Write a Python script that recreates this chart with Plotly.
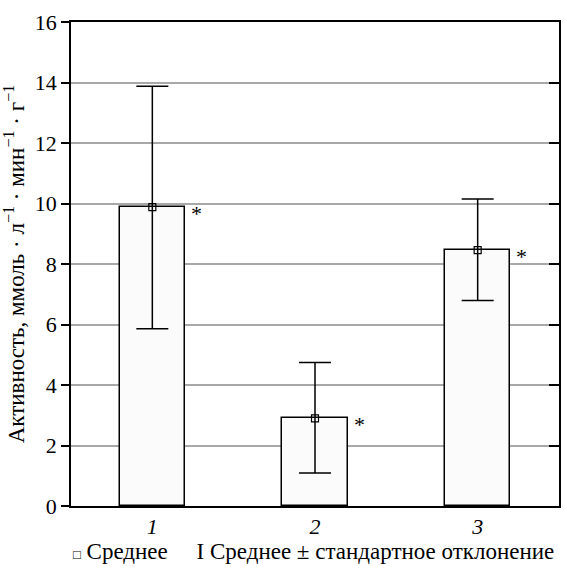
import plotly.graph_objects as go

categories = ["1", "2", "3"]
tick_text = ["<i>1</i>", "<i>2</i>", "<i>3</i>"]
means = [9.88, 2.90, 8.46]
upper = [13.88, 4.74, 10.15]
lower = [5.86, 1.09, 6.79]
y_ticks = [0, 2, 4, 6, 8, 10, 12, 14, 16]

err_plus = [u - m for u, m in zip(upper, means)]
err_minus = [m - l for m, l in zip(means, lower)]

FONT = "Times New Roman"

fig = go.Figure()
fig.add_trace(go.Bar(
    x=categories, y=means, width=0.4,
    marker=dict(color="#fbfbfb", line=dict(color="black", width=1.5)),
    showlegend=False, hoverinfo="skip",
))
fig.add_trace(go.Scatter(
    x=categories, y=means, mode="markers",
    marker=dict(symbol="square-open", size=7, color="black", line=dict(width=1.2)),
    error_y=dict(type="data", symmetric=False, array=err_plus, arrayminus=err_minus,
                 color="black", thickness=1.5, width=16),
    showlegend=False,
))
fig.add_trace(go.Scatter(x=categories, y=means, yaxis="y2", mode="none",
                         showlegend=False, hoverinfo="skip"))

for i, m in enumerate(means):
    fig.add_annotation(x=i, y=m, text="*", showarrow=False, xshift=44, yshift=-6,
                       font=dict(family=FONT, size=22))

fig.add_annotation(
    xref="paper", yref="paper", x=0.497, y=-0.093, xanchor="center", yanchor="middle",
    text="<span style='font-size:13px'>□</span> Среднее     I Среднее ± стандартное отклонение",
    showarrow=False, font=dict(family=FONT, size=23),
)

fig.update_layout(
    template="none",
    width=564, height=567,
    margin=dict(l=71, r=5, t=22, b=61),
    paper_bgcolor="white", plot_bgcolor="white",
    font=dict(family=FONT, size=22, color="black"),
    bargap=0,
    xaxis=dict(
        type="category", range=[-0.5, 2.5],
        tickvals=categories, ticktext=tick_text,
        showline=True, linecolor="black", linewidth=1.5, mirror=True,
        ticks="", showgrid=False,
        tickfont=dict(family=FONT, size=22),
    ),
    yaxis=dict(
        range=[0, 16], tickvals=y_ticks,
        showline=True, linecolor="black", linewidth=1.5, mirror=True,
        ticks="outside", ticklen=8, tickcolor="black", tickwidth=1.5,
        showgrid=True, gridcolor="#a8a8a8", gridwidth=1.5, zeroline=False,
        tickfont=dict(family=FONT, size=22),
        title=dict(text="Активность, ммоль · л<sup>−1</sup> · мин<sup>−1</sup> · г<sup>−1</sup>",
                   font=dict(family=FONT, size=23), standoff=6),
    ),
    yaxis2=dict(overlaying="y", side="right", range=[0, 16], tickvals=y_ticks,
                ticks="inside", ticklen=10, tickwidth=1.5, tickcolor="black",
                showticklabels=False, showgrid=False, zeroline=False, showline=False),
)

fig.write_html("out.html")
